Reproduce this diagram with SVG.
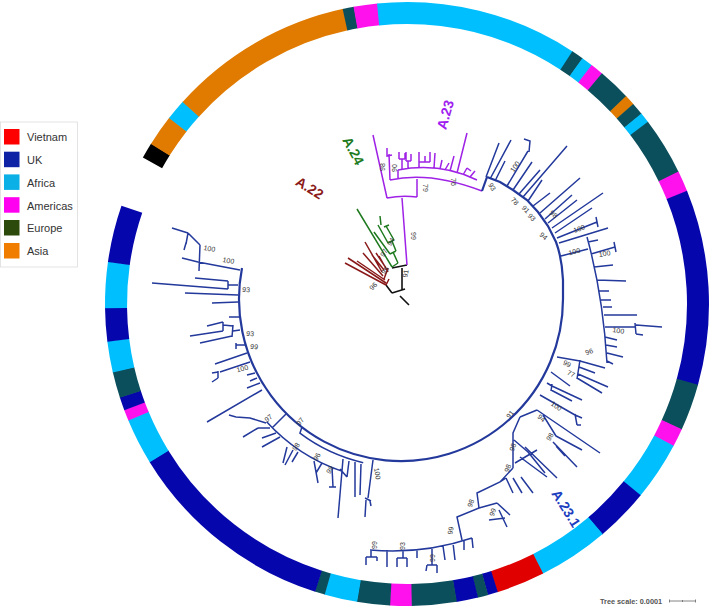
<svg xmlns="http://www.w3.org/2000/svg" width="714" height="608" viewBox="0 0 714 608">
<style>
.seg{fill:none;stroke-width:22}
.bk{stroke:#000}.or{stroke:#e07b00}.cy{stroke:#00bfff}.te{stroke:#0b4f5c}.mg{stroke:#ff11ee}.db{stroke:#0606ad}.rd{stroke:#e10000}
.tb{fill:none;stroke:#23399b;stroke-width:1.5}
.bb{fill:none;stroke:#23399b;stroke-width:2.2}
.tp{fill:none;stroke:#9f22e6;stroke-width:1.5}
.tg{fill:none;stroke:#1f7a1f;stroke-width:1.5}
.tr{fill:none;stroke:#8a1a1a;stroke-width:1.5}
.tk{fill:none;stroke:#111;stroke-width:1.6}
.bs{font-family:"Liberation Sans",Arial,sans-serif;font-size:7px;fill:#333;text-anchor:middle}
.clade{font-family:"Liberation Sans",Arial,sans-serif;font-size:14px;font-weight:bold;text-anchor:middle}
.leg{font-family:"Liberation Sans",Arial,sans-serif;font-size:11px;fill:#333}
</style>

<g id="legend">
<rect x="0.5" y="122" width="77" height="145" fill="#fff" stroke="#ddd" stroke-width="0.8"/>
<rect x="4" y="129" width="15.5" height="15.5" fill="#ff0000"/><text class="leg" x="27" y="141">Vietnam</text>
<rect x="4" y="151.7" width="15.5" height="15.5" fill="#0d22a5"/><text class="leg" x="27" y="164">UK</text>
<rect x="4" y="174.4" width="15.5" height="15.5" fill="#0ab0e6"/><text class="leg" x="27" y="186.5">Africa</text>
<rect x="4" y="197.2" width="15.5" height="15.5" fill="#ff00f0"/><text class="leg" x="27" y="209.5">Americas</text>
<rect x="4" y="220" width="15.5" height="15.5" fill="#2b4a0c"/><text class="leg" x="27" y="232">Europe</text>
<rect x="4" y="243" width="15.5" height="15.5" fill="#f07c00"/><text class="leg" x="27" y="255">Asia</text>
</g>

<g id="ring" transform="translate(407 304)">
<circle class="seg bk" r="291" stroke-dasharray="15.8 2000" transform="rotate(209)"/>
<circle class="seg or" r="291" stroke-dasharray="31.1 2000" transform="rotate(212)"/>
<circle class="seg cy" r="291" stroke-dasharray="20.9 2000" transform="rotate(218)"/>
<circle class="seg or" r="291" stroke-dasharray="181.9 2000" transform="rotate(222)"/>
<circle class="seg te" r="291" stroke-dasharray="11.3 2000" transform="rotate(257.7)"/>
<circle class="seg mg" r="291" stroke-dasharray="23.5 2000" transform="rotate(259.8)"/>
<circle class="seg cy" r="291" stroke-dasharray="198.2 2000" transform="rotate(264.3)"/>
<circle class="seg te" r="291" stroke-dasharray="12.3 2000" transform="rotate(303.2)"/>
<circle class="seg cy" r="291" stroke-dasharray="11.8 2000" transform="rotate(305.5)"/>
<circle class="seg mg" r="291" stroke-dasharray="13.3 2000" transform="rotate(307.7)"/>
<circle class="seg te" r="291" stroke-dasharray="32.6 2000" transform="rotate(310.2)"/>
<circle class="seg or" r="291" stroke-dasharray="10.8 2000" transform="rotate(316.5)"/>
<circle class="seg te" r="291" stroke-dasharray="12.8 2000" transform="rotate(318.5)"/>
<circle class="seg cy" r="291" stroke-dasharray="10.8 2000" transform="rotate(320.9)"/>
<circle class="seg te" r="291" stroke-dasharray="57 2000" transform="rotate(322.9)"/>
<circle class="seg mg" r="291" stroke-dasharray="20.9 2000" transform="rotate(334)"/>
<circle class="seg db" r="291" stroke-dasharray="191.1 2000" transform="rotate(338)"/>
<circle class="seg te" r="291" stroke-dasharray="46.3 2000" transform="rotate(15.5)"/>
<circle class="seg mg" r="291" stroke-dasharray="18.4 2000" transform="rotate(24.5)"/>
<circle class="seg cy" r="291" stroke-dasharray="58 2000" transform="rotate(28)"/>
<circle class="seg db" r="291" stroke-dasharray="52.9 2000" transform="rotate(39.3)"/>
<circle class="seg cy" r="291" stroke-dasharray="69.7 2000" transform="rotate(49.6)"/>
<circle class="seg rd" r="291" stroke-dasharray="47.8 2000" transform="rotate(63.2)"/>
<circle class="seg db" r="291" stroke-dasharray="10.2 2000" transform="rotate(72.5)"/>
<circle class="seg te" r="291" stroke-dasharray="10.8 2000" transform="rotate(74.4)"/>
<circle class="seg db" r="291" stroke-dasharray="21.4 2000" transform="rotate(76.4)"/>
<circle class="seg te" r="291" stroke-dasharray="44.3 2000" transform="rotate(80.5)"/>
<circle class="seg mg" r="291" stroke-dasharray="21.4 2000" transform="rotate(89.1)"/>
<circle class="seg te" r="291" stroke-dasharray="32.6 2000" transform="rotate(93.2)"/>
<circle class="seg cy" r="291" stroke-dasharray="32.6 2000" transform="rotate(99.5)"/>
<circle class="seg te" r="291" stroke-dasharray="10.2 2000" transform="rotate(105.8)"/>
<circle class="seg db" r="291" stroke-dasharray="207.3 2000" transform="rotate(107.7)"/>
<circle class="seg cy" r="291" stroke-dasharray="45.8 2000" transform="rotate(148.4)"/>
<circle class="seg mg" r="291" stroke-dasharray="11.3 2000" transform="rotate(157.3)"/>
<circle class="seg db" r="291" stroke-dasharray="13.3 2000" transform="rotate(159.4)"/>
<circle class="seg te" r="291" stroke-dasharray="26 2000" transform="rotate(161.9)"/>
<circle class="seg cy" r="291" stroke-dasharray="30.6 2000" transform="rotate(166.9)"/>
<circle class="seg db" r="291" stroke-dasharray="33.1 2000" transform="rotate(172.8)"/>
<circle class="seg cy" r="291" stroke-dasharray="45.3 2000" transform="rotate(179.2)"/>
<circle class="seg db" r="291" stroke-dasharray="55.9 2000" transform="rotate(188)"/>
</g>

<g id="connectors">
<path class="tk" d="M409,305 L400,296 M392,293 L405,289 M392,293 L386,285 M402,290 L402,268 M392,268 L407,265"/>
<path class="tr" d="M386,285 L345,263 M386,283 L348,258 M385,280 L357,261 M383,276 L363,253 M382,272 L365,242 M384,270 L372,255 M386,268 L376,253 M388,272 L379,256 M384,279 L388,268 M386,285 L389,279"/>
<path class="tg" d="M392,267 L357,209 M392,267 L398,263 M398,263 L393,252 M390,254 L396,251 M390,254 L374,232 M396,251 L392,241 M388,243 L394,240 M388,243 L378,225 M394,240 L386,226 M384,227 L389,225 M381,225 L380,216"/>
<path class="tp" d="M407,265 L402,198 M387,198 Q402,195 417,197 M387,198 L373,135 M417,197 L417,179 M390,180 Q430,171 482,191 M390,180 L389,154 M387,148 L387,156 L392,155 M398,178 L398,170 M398,170 Q440,162 477,180
M402,170 L402,159 M399,159 L405,159 M399,159 L399,152 M405,159 L405,153
M408,169 L408,161 M406,161 L411,161 M406,161 L406,152 M411,161 L411,154
M419,168 L419,162 M419,162 L430,162 M419,162 L419,152 M430,162 L430,152 M425,162 L425,156
M434,168 L435,153 M440,169 L442,160 M445,170 L449,163 M450,171 L454,156 M457,173 L467,133 M463,175 L467,168 M467,168 L471,171 M470,177 L475,171"/>
<path class="bb" d="M482,191 L487,177 M487,177 L500,182 L513,190 L527,200 L538,212 L548,226 L556,242 Q562,258 563,280 L563,299 A162 162 0 1 1 242,268"/>
<path class="tb" d="M486,177 L499,143 M490,179 L511,140 M495,181 L505,161 M507,186 L528,151 M524,139 L530,141 L529,152 M513,190 L532,162 M519,194 L540,170 M523,197 L567,146 M528,201 L542,180 M533,206 L550,193 M540,213 L580,178 M545,219 L572,195 M548,223 L577,200 M552,228 L603,193 M555,233 L592,208 M557,238 L597,222 M596,217 L598,227 M559,243 L608,228
M561,256 L588,249 M587,237 Q603,295 607,363
M588,242 L598,240 M591,254 L615,247 M614,242 L616,252 M594,267 L613,265 M597,280 L626,281 M599,291 L609,291 M601,300 L611,300 M603,307 L612,307 M604,315 L637,315 M605,327 L635,327 M635,323 L636,334 M636,325 L662,327 M636,334 L643,335 M605,337 L617,340 M606,345 L617,347 M607,353 L623,357 M607,361 L613,364
M557,357 L580,361 M580,360 L577,379 M580,361 L605,368 M579,367 L595,373 M578,374 L608,387 M577,378 L602,393 M551,372 L570,386 M547,383 L552,386 M552,384 L551,391 M552,386 L582,400 M551,390 L572,401 M540,395 L575,415 M575,414 L577,425 M575,415 L582,418 M577,425 L581,425
M520,417 L537,410 M537,410 L600,453 M543,415 L556,436 M556,436 L582,450 M553,442 L577,467 M556,446 L565,456
M520,417 L513,433 L513,468 M514,440 L528,452 M528,452 L545,473 M525,447 L557,478 M515,463 L537,450 M520,457 L547,477
M513,468 L500,482 L477,493 L479,508 L457,517 L462,540 M479,508 L497,503 M497,503 L510,515 M499,510 L507,527 M489,520 L505,518 M500,482 L506,478 M506,478 L513,493 M513,478 L522,493 M521,477 L533,493
M472,538 A251 251 0 0 1 370,550 M472,538 L473,548 M464,541 L464,550 M453,543 L455,560 M443,546 L445,560 M432,548 L432,565 M427,565 L437,565 M437,565 L437,573 M427,565 L426,571 M417,550 L417,558 M403,550 L403,558 M397,558 L407,558 M397,558 L397,567 M407,558 L407,567 M387,550 L387,567 M371,550 L371,557 M366,557 L377,557 M366,557 L366,565 M377,557 L377,561
M373,460 L368,498 M365,498 L371,501 M366,500 L365,517 M370,501 L371,506
M302,427 L299.9,433.2 A168 168 0 0 0 363.2,462.7 M343,459 L338,518 M355,462 L355,497 M361,464 L360,495 M349,461 L347,477
M286,414 L272,428 M266.6,421.7 A182 182 0 0 0 341.7,471.1 M266,423 L250,418 L236,417 M236,417 L229,415 M270,428 L258,428 M258,428 L243,437 M276,433 L262,438 M280,437 L262,447
M287,447 L283,463 M293,450 L285,465 M298,452 L292,462 M314,461 L318,483 M322,463 L316,473 M332,467 L333,487 M329,487 L336,487 M340,469 L347,477
M240,270 L198,262 M200,245 L199,271 M198,262 L182,258 M200,245 L188,233 M188,233 L186,244 M188,233 L172,228 M186,243 L184,250
M238,285 L228,285 M228,281 L228,289 M228,281 L195,278 M228,289 L152,283 M238,295 L185,293 M238,302 L212,303 M239,317 L229,317
M240,330 L233,331 M233,325 L232,337 M233,326 L223,325 M223,322 L223,331 M223,322 L207,326 M223,331 L190,336 M232,336 L200,343
M245,345 L236,345 M236,343 L236,349 M247,353 L215,364 M250,362 L220,372 M218,371 L218,378 M218,372 L212,373 M218,378 L212,382 M255,373 L247,375 M257,378 L250,381 M260,383 L247,388 M262,390 L207,422"/>
</g>

<g id="bootstrap">
<text class="bs" transform="translate(411 236) rotate(90)">99</text>
<text class="bs" transform="translate(423 188) rotate(90)">79</text>
<text class="bs" transform="translate(451 182) rotate(90)">76</text>
<text class="bs" transform="translate(385 167) rotate(-90)">98</text>
<text class="bs" transform="translate(397 168) rotate(-90)">90</text>
<text class="bs" transform="translate(393 243) rotate(-60)">94</text>
<text class="bs" transform="translate(386 254) rotate(-60)">97</text>
<text class="bs" transform="translate(408 274) rotate(-80)">91</text>
<text class="bs" transform="translate(387 272) rotate(-50)">95</text>
<text class="bs" transform="translate(375 288) rotate(-45)">96</text>
<text class="bs" transform="translate(490 188) rotate(60)">93</text>
<text class="bs" transform="translate(517 168) rotate(-55)">100</text>
<text class="bs" transform="translate(513 203) rotate(45)">78</text>
<text class="bs" transform="translate(524 211) rotate(45)">91</text>
<text class="bs" transform="translate(530 219) rotate(45)">93</text>
<text class="bs" transform="translate(552 216) rotate(40)">98</text>
<text class="bs" transform="translate(542 238) rotate(40)">94</text>
<text class="bs" transform="translate(580 231) rotate(-20)">100</text>
<text class="bs" transform="translate(575 254) rotate(-15)">100</text>
<text class="bs" transform="translate(605 256) rotate(-10)">100</text>
<text class="bs" transform="translate(618 333) rotate(9)">100</text>
<text class="bs" transform="translate(590 354) rotate(-20)">96</text>
<text class="bs" transform="translate(566 366) rotate(25)">99</text>
<text class="bs" transform="translate(570 376) rotate(25)">77</text>
<text class="bs" transform="translate(555 408) rotate(35)">100</text>
<text class="bs" transform="translate(512 416) rotate(-50)">91</text>
<text class="bs" transform="translate(540 420) rotate(40)">94</text>
<text class="bs" transform="translate(552 438) rotate(-60)">98</text>
<text class="bs" transform="translate(515 448) rotate(-70)">98</text>
<text class="bs" transform="translate(510 469) rotate(-70)">98</text>
<text class="bs" transform="translate(473 504) rotate(-70)">98</text>
<text class="bs" transform="translate(495 513) rotate(-70)">99</text>
<text class="bs" transform="translate(453 531) rotate(-80)">99</text>
<text class="bs" transform="translate(377 545) rotate(-90)">99</text>
<text class="bs" transform="translate(405 546) rotate(-90)">93</text>
<text class="bs" transform="translate(435 558) rotate(-90)">99</text>
<text class="bs" transform="translate(375 474) rotate(80)">100</text>
<text class="bs" transform="translate(302 423) rotate(-50)">97</text>
<text class="bs" transform="translate(319 458) rotate(-60)">96</text>
<text class="bs" transform="translate(332 471) rotate(-60)">99</text>
<text class="bs" transform="translate(298 448) rotate(-55)">98</text>
<text class="bs" transform="translate(270 420) rotate(-40)">97</text>
<text class="bs" transform="translate(228 263) rotate(10)">100</text>
<text class="bs" transform="translate(209 251) rotate(10)">100</text>
<text class="bs" transform="translate(246 292) rotate(5)">93</text>
<text class="bs" transform="translate(250 336) rotate(5)">93</text>
<text class="bs" transform="translate(254 349) rotate(5)">99</text>
<text class="bs" transform="translate(243 371) rotate(-15)">100</text>
</g>

<g id="clade-labels">
<text class="clade" fill="#8b1a1a" transform="translate(307 192) rotate(32)">A.22</text>
<text class="clade" fill="#1e7b1e" transform="translate(349 153) rotate(62)">A.24</text>
<text class="clade" fill="#a020f0" transform="translate(450 116) rotate(-74)">A.23</text>
<text class="clade" fill="#1d3fbf" transform="translate(562 511) rotate(58)">A.23.1</text>
</g>

<g id="scale">
<text x="600" y="603.5" font-family="Liberation Sans, Arial, sans-serif" font-size="7.3" font-weight="bold" fill="#555">Tree scale: 0.0001</text>
<path d="M669.5,601 H695.5 M669.5,599.5 V602.5 M695.5,599.5 V602.5 M682.5,600 V602" stroke="#666" stroke-width="0.8" fill="none"/>
</g>
</svg>
